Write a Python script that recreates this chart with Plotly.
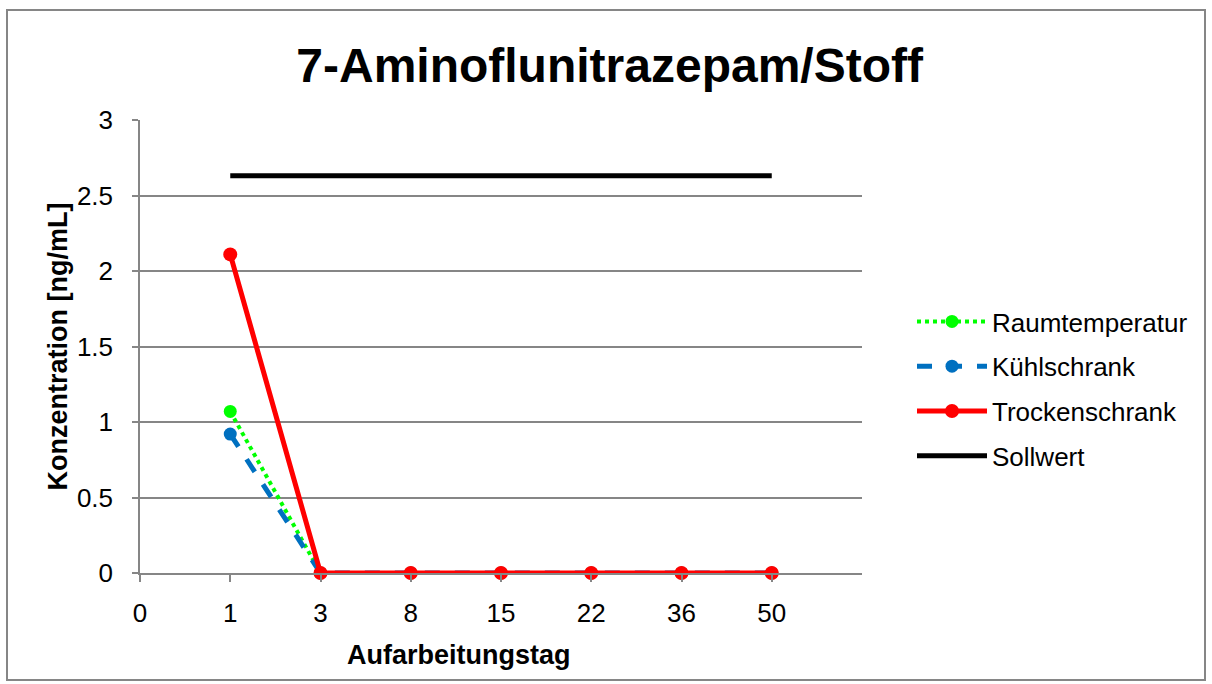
import plotly.graph_objects as go

# ---- data ----
categories = ["0", "1", "3", "8", "15", "22", "36", "50"]
days_pos = [1, 2, 3, 4, 5, 6, 7]          # category slots for days 1..50
raumtemperatur = [1.07, 0, 0, 0, 0, 0, 0]
kuehlschrank = [0.92, 0, 0, 0, 0, 0, 0]
trockenschrank = [2.11, 0, 0, 0, 0, 0, 0]
sollwert = [2.63, 2.63, 2.63, 2.63, 2.63, 2.63, 2.63]
y_ticks = [0, 0.5, 1, 1.5, 2, 2.5, 3]
y_ticktext = ["0", "0.5", "1", "1.5", "2", "2.5", "3"]

FONT = "Liberation Sans, Arial, sans-serif"

fig = go.Figure()
fig.add_trace(go.Scatter(
    x=days_pos, y=raumtemperatur, name="Raumtemperatur", mode="lines+markers",
    line=dict(color="#00FF00", width=4, dash="dot"),
    marker=dict(color="#00FF00", size=13), legendgroup="a", cliponaxis=False))
fig.add_trace(go.Scatter(
    x=days_pos, y=kuehlschrank, name="Kühlschrank", mode="lines+markers",
    line=dict(color="#0070C0", width=5, dash="dash"),
    marker=dict(color="#0070C0", size=13), legendgroup="b", cliponaxis=False))
fig.add_trace(go.Scatter(
    x=days_pos, y=trockenschrank, name="Trockenschrank", mode="lines+markers",
    line=dict(color="#FF0000", width=5),
    marker=dict(color="#FF0000", size=14), legendgroup="c", cliponaxis=False))
fig.add_trace(go.Scatter(
    x=days_pos, y=sollwert, name="Sollwert", mode="lines",
    line=dict(color="#000000", width=5), legendgroup="d", cliponaxis=False))

L, R, T, B = 140, 350, 120, 111
W, H = 1212, 684
pw, ph = W - L - R, H - T - B

fig.update_layout(
    width=W, height=H,
    margin=dict(l=L, r=R, t=T, b=B),
    paper_bgcolor="white", plot_bgcolor="white",
    font=dict(family=FONT, size=26, color="black"),
    title=dict(text="<b>7-Aminoflunitrazepam/Stoff</b>", x=0.503, xanchor="center",
               y=1 - 65 / H, yanchor="middle", yref="container",
               font=dict(size=48, family=FONT, color="black")),
    legend=dict(x=(912 - L) / pw, xanchor="left", y=(T + ph - 298) / ph, yanchor="top",
                font=dict(size=26, family=FONT), tracegroupgap=8,
                bgcolor="rgba(0,0,0,0)", itemwidth=70),
    showlegend=True,
)

fig.update_xaxes(
    range=[0, 8], tickmode="array", tickvals=list(range(len(categories))),
    ticktext=categories, showgrid=False, zeroline=False,
    showline=True, linecolor="#868686", linewidth=1.5,
    ticks="outside", ticklen=7, tickcolor="#868686", tickwidth=1.5,
    ticklabelstandoff=9,
    tickfont=dict(size=26, family=FONT),
)
fig.update_yaxes(
    range=[0, 3], tickmode="array", tickvals=y_ticks, ticktext=y_ticktext,
    showgrid=True, gridcolor="#868686", gridwidth=1.5, zeroline=False,
    showline=True, linecolor="#868686", linewidth=1.5,
    ticks="outside", ticklen=6, tickcolor="#868686", tickwidth=1.5,
    ticklabelstandoff=14,
    tickfont=dict(size=26, family=FONT),
    title=dict(text="<b>Konzentration [ng/mL]</b>", font=dict(size=27, family=FONT),
               standoff=1),
)

# x-axis title as annotation (offset left as in reference)
fig.add_annotation(
    text="<b>Aufarbeitungstag</b>", xref="paper", yref="paper",
    x=(459 - L) / pw, y=(H - B - 655) / ph, xanchor="center", yanchor="middle",
    showarrow=False, font=dict(size=27, family=FONT, color="black"))

# outer chart border
fig.add_shape(type="rect", xref="paper", yref="paper",
              x0=(7 - L) / pw, x1=(1205 - L) / pw,
              y0=(H - B - 680) / ph, y1=(H - B - 10) / ph,
              line=dict(color="#868686", width=2), layer="below")

fig.write_html("out.html", config={"displayModeBar": False},
               post_script="document.body.style.margin='0';")
